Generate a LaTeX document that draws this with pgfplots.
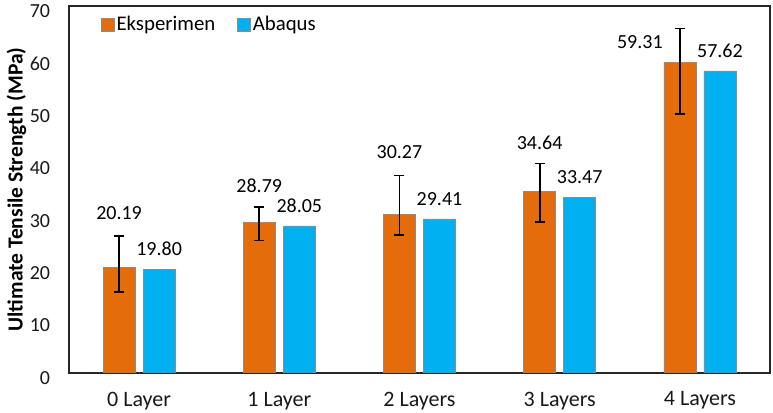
\documentclass[border=0pt]{standalone}
\usepackage{pgfplots}
\pgfplotsset{compat=1.18}
\usepackage{pgfplotstable}
\usepackage{fontspec}
\setmainfont{Carlito}

\definecolor{eksp}{RGB}{228,108,10}
\definecolor{abaq}{RGB}{0,176,240}

% Experimental tensile strength with asymmetric scatter
\pgfplotstableread{
x  y      ep   em
0  20.19  5.9  4.7
1  28.79  2.8  3.5
2  30.27  7.4  4.0
3  34.64  5.3  5.8
4  59.31  6.4  9.9
}\eksp

% Abaqus model results
\pgfplotstableread{
x  y
0  19.80
1  28.05
2  29.41
3  33.47
4  57.62
}\abaq

% Value labels of the experimental bars, set above the error bars
\pgfplotstableread{
x       y      lab
-0.143  30.45  20.19
0.857   35.80  28.79
1.857   42.05  30.27
2.857   43.90  34.64
3.572   63.20  59.31
}\ekslab

\newcommand{\lblfont}{\fontsize{20pt}{24pt}\selectfont}

\begin{document}
\lblfont
\begin{tikzpicture}
\begin{axis}[
  scale only axis,
  width=701pt, height=367pt,
  xmin=-0.5, xmax=4.5,
  ymin=0, ymax=70,
  ytick={0,10,...,70},
  xtick={0,1,2,3,4},
  xticklabels={0 Layer,1 Layer,2 Layers,3 Layers,4 Layers},
  major tick length=0pt,
  axis line style={black!85, line width=1.3pt},
  yticklabel style={font=\lblfont, text=black!90, xshift=-12pt, yshift=-5pt},
  xticklabel style={font=\fontsize{22pt}{26pt}\selectfont, text=black!90, yshift=-12pt},
  /pgf/number format/assume math mode=true,
  ylabel={\bfseries Ultimate Tensile Strength (MPa)},
  ylabel style={at={(axis description cs:-0.075,0.5)}, anchor=center, font=\fontsize{21.5pt}{25pt}\selectfont},
  legend columns=2,
  legend style={
    at={(axis description cs:0.041,0.984)}, anchor=north west,
    draw=none, fill=none, font=\fontsize{20.8pt}{25pt}\selectfont,
    /tikz/every even column/.append style={column sep=20pt},
  },
  legend cell align=left,
  legend image code/.code={\draw[#1, line width=0.6pt] (-2pt,-6.5pt) rectangle (11pt,6.5pt);},
]
\addplot[ybar, bar width=32pt, bar shift=0pt, fill=eksp, draw=black!45, line width=0.6pt,
  error bars/.cd, y dir=both, y explicit,
  error bar style={black, line width=1.8pt},
  error mark options={rotate=90, mark size=5pt, line width=1.8pt, black}]
  table[x expr=\thisrow{x}-0.1427, y=y, y error plus=ep, y error minus=em] {\eksp};
\addlegendentry{Eksperimen}

\addplot[ybar, bar width=32pt, bar shift=0pt, fill=abaq, draw=black!45, line width=0.6pt,
  nodes near coords,
  nodes near coords style={anchor=center, yshift=20pt, text=black, font=\lblfont,
    /pgf/number format/.cd, fixed, fixed zerofill, precision=2, assume math mode=true}]
  table[x expr=\thisrow{x}+0.1427, y=y] {\abaq};
\addlegendentry{Abaqus}

\addplot[draw=none, mark=none, forget plot,
  nodes near coords, point meta=explicit symbolic,
  nodes near coords style={anchor=center, text=black, font=\lblfont}]
  table[x=x, y=y, meta=lab] {\ekslab};
\end{axis}
\pgfresetboundingbox
\path (current axis.south west) ++(-69pt,-40pt) coordinate (bbsw);
\path (current axis.north east) ++(3pt,6pt) coordinate (bbne);
\path[use as bounding box] (bbsw) rectangle (bbne);
\end{tikzpicture}
\end{document}
